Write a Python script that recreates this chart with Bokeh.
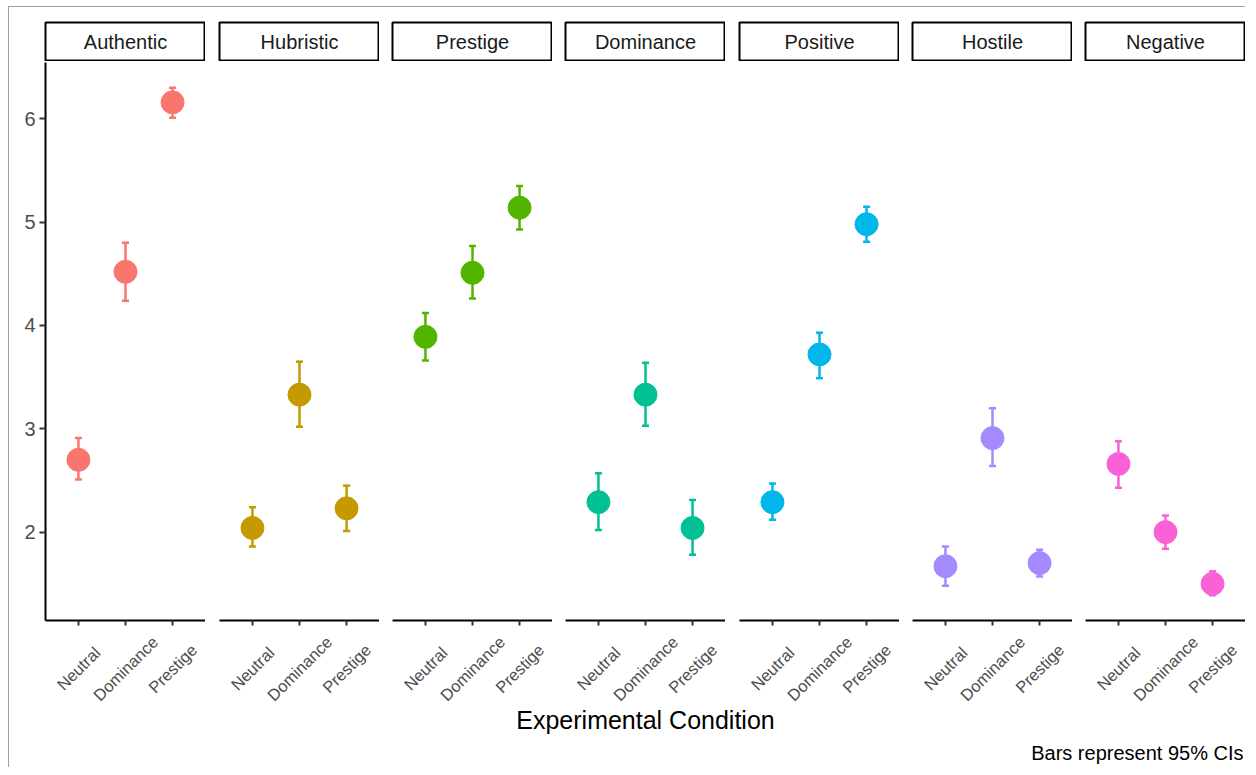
from math import pi
from bokeh.plotting import figure
from bokeh.layouts import row, column
from bokeh.models import ColumnDataSource, Range1d, FactorRange, Whisker, TeeHead, FixedTicker, Spacer
from bokeh.embed import file_html
from bokeh.resources import INLINE
from bokeh.core.properties import value

# ---------------- data ----------------
emotions = ["Authentic", "Hubristic", "Prestige", "Dominance", "Positive", "Hostile", "Negative"]
conditions = ["Neutral", "Dominance", "Prestige"]
colors = ["#F8766D", "#C49A00", "#53B400", "#00C094", "#00B6EB", "#A58AFF", "#FB61D7"]

neutral_mean = [2.70, 2.04, 3.89, 2.29, 2.29, 1.67, 2.66]
neutral_lower = [2.51, 1.86, 3.66, 2.02, 2.12, 1.48, 2.43]
neutral_upper = [2.91, 2.24, 4.12, 2.57, 2.47, 1.86, 2.88]

dominance_mean = [4.52, 3.33, 4.51, 3.33, 3.72, 2.91, 2.00]
dominance_lower = [4.24, 3.02, 4.26, 3.03, 3.49, 2.64, 1.84]
dominance_upper = [4.80, 3.65, 4.77, 3.64, 3.93, 3.20, 2.16]

prestige_mean = [6.16, 2.23, 5.14, 2.04, 4.98, 1.70, 1.50]
prestige_lower = [6.01, 2.01, 4.93, 1.78, 4.81, 1.57, 1.39]
prestige_upper = [6.30, 2.45, 5.35, 2.31, 5.15, 1.83, 1.62]

y_ticks = [2, 3, 4, 5, 6]
x_title = "Experimental Condition"
caption = "Bars represent 95% CIs"

# ---------------- layout constants ----------------
FONT = "Liberation Sans"
FRAME_W = 160
FRAME_H = 558
LEFT0 = 36
GAPS = [14, 13, 13, 14, 13, 13]
STRIP_H = 39
STRIP_TOP = 15
PANEL_BOTTOM = 10
LAB_H = 75
BOT_H = 62

all_lo = neutral_lower + dominance_lower + prestige_lower
all_hi = neutral_upper + dominance_upper + prestige_upper
span = max(all_hi) - min(all_lo)
y_range = Range1d(min(all_lo) - 0.05 * span, max(all_hi) + 0.05 * span)

cols = []
for i, emo in enumerate(emotions):
    left = LEFT0 if i == 0 else GAPS[i - 1]
    color = colors[i]
    xr = FactorRange(*conditions, range_padding=0.2, range_padding_units="absolute")

    # strip
    s = figure(x_range=Range1d(0, 1), y_range=Range1d(0, 1), frame_width=FRAME_W, frame_height=STRIP_H,
               x_axis_location=None, y_axis_location=None, toolbar_location=None,
               output_backend="svg", min_border_left=left, min_border_right=0,
               min_border_top=STRIP_TOP, min_border_bottom=0)
    s.grid.visible = False
    s.outline_line_color = "black"
    s.outline_line_width = 2
    s.text(x=[0.5], y=[0.5], text=[emo], text_align="center", text_baseline="middle",
           text_font=value(FONT), text_font_size="20px", text_color="#1A1A1A")

    # panel
    p = figure(x_range=xr, y_range=y_range, frame_width=FRAME_W, frame_height=FRAME_H,
               toolbar_location=None, output_backend="svg",
               min_border_left=left, min_border_right=0, min_border_top=1,
               min_border_bottom=PANEL_BOTTOM,
               y_axis_location="left" if i == 0 else None)
    p.grid.visible = False
    p.outline_line_color = None
    p.xaxis.axis_line_width = 2
    p.xaxis.axis_line_color = "black"
    p.xaxis.major_tick_line_color = "#333333"
    p.xaxis.major_tick_line_width = 2
    p.xaxis.major_tick_out = 5
    p.xaxis.major_tick_in = 0
    p.xaxis.minor_tick_line_color = None
    p.xaxis.major_label_text_color = None
    p.xaxis.major_label_standoff = 0
    if i == 0:
        p.yaxis.ticker = FixedTicker(ticks=y_ticks)
        p.yaxis.axis_line_width = 2
        p.yaxis.axis_line_color = "black"
        p.yaxis.major_tick_line_color = "#333333"
        p.yaxis.major_tick_line_width = 2
        p.yaxis.major_tick_out = 6
        p.yaxis.major_tick_in = 0
        p.yaxis.minor_tick_line_color = None
        p.yaxis.major_label_text_font = FONT
        p.yaxis.major_label_text_font_size = "20px"
        p.yaxis.major_label_text_color = "#4D4D4D"
        p.yaxis.major_label_standoff = 4

    src = ColumnDataSource(dict(
        cond=conditions,
        mean=[neutral_mean[i], dominance_mean[i], prestige_mean[i]],
        lower=[neutral_lower[i], dominance_lower[i], prestige_lower[i]],
        upper=[neutral_upper[i], dominance_upper[i], prestige_upper[i]],
    ))
    w = Whisker(source=src, base="cond", lower="lower", upper="upper",
                line_color=color, line_width=2.5,
                upper_head=TeeHead(size=7, line_color=color, line_width=2.5),
                lower_head=TeeHead(size=7, line_color=color, line_width=2.5))
    p.add_layout(w)
    p.scatter("cond", "mean", source=src, size=23, fill_color=color, line_color=color)

    # rotated tick labels, centred on their ticks
    lf = figure(x_range=xr, y_range=Range1d(0, LAB_H), frame_width=FRAME_W, frame_height=LAB_H,
                x_axis_location=None, y_axis_location=None, toolbar_location=None,
                output_backend="svg", min_border_left=left, min_border_right=0,
                min_border_top=0, min_border_bottom=0)
    lf.grid.visible = False
    lf.outline_line_color = None
    lf.text(x=conditions, y=[LAB_H - 38] * len(conditions), text=conditions, angle=pi / 4,
            text_align="center", text_baseline="middle", text_font=value(FONT),
            text_font_size="16.5px", text_color="#4D4D4D")

    cols.append(column(s, p, lf))

total_w = LEFT0 + FRAME_W * len(emotions) + sum(GAPS)
b = figure(width=total_w, height=BOT_H, x_range=Range1d(0, total_w), y_range=Range1d(0, BOT_H),
           x_axis_location=None, y_axis_location=None, toolbar_location=None,
           output_backend="svg", min_border=0)
b.grid.visible = False
b.outline_line_color = None
b.text(x=[LEFT0 + (total_w - LEFT0) / 2], y=[BOT_H - 14], text=[x_title], text_align="center",
       text_baseline="middle", text_font=value(FONT), text_font_size="25px", text_color="black")
b.text(x=[total_w - 2], y=[BOT_H - 47], text=[caption], text_align="right",
       text_baseline="middle", text_font=value(FONT), text_font_size="20px", text_color="black")

inner = column(row(*cols), b, styles={"border-left": "1px solid #A0A0A0",
                                       "border-top": "1px solid #A0A0A0"})
layout = column(Spacer(width=10, height=6), row(Spacer(width=8, height=10), inner))

open("out.html", "w").write(file_html(layout, INLINE))
